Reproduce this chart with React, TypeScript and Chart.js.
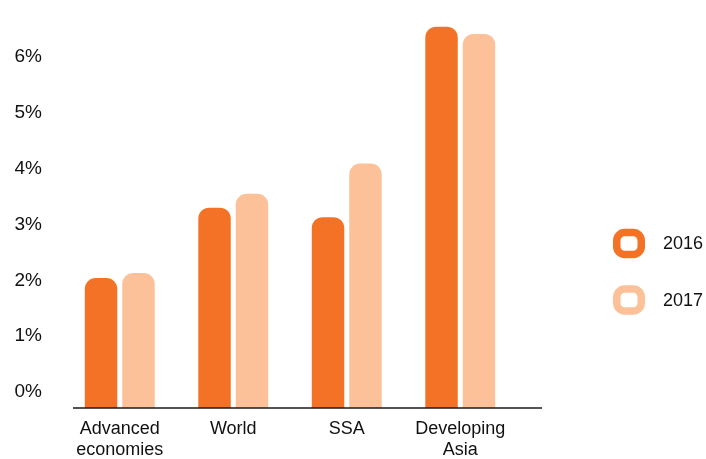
import React, { useEffect, useRef } from "react";
import { Chart, registerables } from "chart.js";

Chart.register(...registerables);

const categories: (string | string[])[] = [["Advanced", "economies"], "World", "SSA", ["Developing", "Asia"]];
const seriesNames = ["2016", "2017"];
const values2016 = [2.04, 3.3, 3.13, 6.54];
const values2017 = [2.13, 3.55, 4.09, 6.41];
const yTickValues = [0, 1, 2, 3, 4, 5, 6];

const colors = ["#F47226", "#FCC198"];
const FONT = "'Liberation Sans', Arial, Helvetica, sans-serif";
const AXIS_MIN = -0.286;

const axisLinePlugin = {
  id: "axisLine",
  afterDraw(chart: any) {
    const ctx = chart.ctx;
    const y = chart.scales.y.getPixelForValue(AXIS_MIN);
    ctx.save();
    ctx.strokeStyle = "#1a1a1a";
    ctx.lineWidth = 1.5;
    ctx.beginPath();
    ctx.moveTo(chart.chartArea.left + 10, y);
    ctx.lineTo(chart.chartArea.right + 25, y);
    ctx.stroke();
    ctx.restore();
  },
};

const legendPlugin = {
  id: "sideLegend",
  afterDraw(chart: any) {
    const ctx = chart.ctx;
    const centersY = [243.5, 300];
    chart.data.datasets.forEach((ds: any, i: number) => {
      const cy = centersY[i];
      const cx = 629;
      const w = 24.5;
      const h = 22;
      ctx.save();
      ctx.strokeStyle = ds.backgroundColor;
      ctx.lineWidth = 7.5;
      ctx.beginPath();
      ctx.roundRect(cx - w / 2, cy - h / 2, w, h, 8);
      ctx.stroke();
      ctx.fillStyle = "#111";
      ctx.font = `18px ${FONT}`;
      ctx.textAlign = "left";
      ctx.textBaseline = "middle";
      ctx.fillText(ds.label, 663, cy + 1);
      ctx.restore();
    });
  },
};

export default function App() {
  const ref = useRef<HTMLCanvasElement | null>(null);

  useEffect(() => {
    if (!ref.current) return;
    const chart = new Chart(ref.current, {
      type: "bar",
      data: {
        labels: categories,
        datasets: [
          {
            label: seriesNames[0],
            data: values2016,
            backgroundColor: colors[0],
            base: AXIS_MIN,
            borderRadius: { topLeft: 11, topRight: 11, bottomLeft: 0, bottomRight: 0 },
            borderSkipped: "start",
          } as any,
          {
            label: seriesNames[1],
            data: values2017,
            backgroundColor: colors[1],
            base: AXIS_MIN,
            borderRadius: { topLeft: 11, topRight: 11, bottomLeft: 0, bottomRight: 0 },
            borderSkipped: "start",
          } as any,
        ],
      },
      options: {
        responsive: false,
        animation: false,
        layout: { padding: { top: 4, right: 189, left: 0, bottom: 0 } },
        datasets: { bar: { categoryPercentage: 0.66, barPercentage: 0.867 } },
        plugins: {
          legend: { display: false },
          tooltip: { enabled: false },
        },
        scales: {
          x: {
            grid: { display: false },
            border: { display: false },
            ticks: {
              color: "#111",
              padding: 2,
              maxRotation: 0,
              autoSkip: false,
              font: { family: FONT, size: 18, lineHeight: 1.2 },
            },
            afterFit: (scale: any) => {
              scale.height = 51;
            },
          },
          y: {
            min: AXIS_MIN,
            max: 6.58,
            grid: { display: false },
            border: { display: false },
            afterBuildTicks: (scale: any) => {
              scale.ticks = yTickValues.map((v) => ({ value: v }));
            },
            afterFit: (scale: any) => {
              scale.width = 63;
            },
            ticks: {
              color: "#111",
              padding: 13,
              font: { family: FONT, size: 19 },
              callback: (v: any) => `${v}%`,
            },
          },
        },
      },
      plugins: [axisLinePlugin, legendPlugin],
    });
    return () => chart.destroy();
  }, []);

  return (
    <div style={{ position: "fixed", left: 0, top: 0, width: 706, height: 459, background: "#fff" }}>
      <canvas ref={ref} width={706} height={459} style={{ display: "block" }} />
    </div>
  );
}
